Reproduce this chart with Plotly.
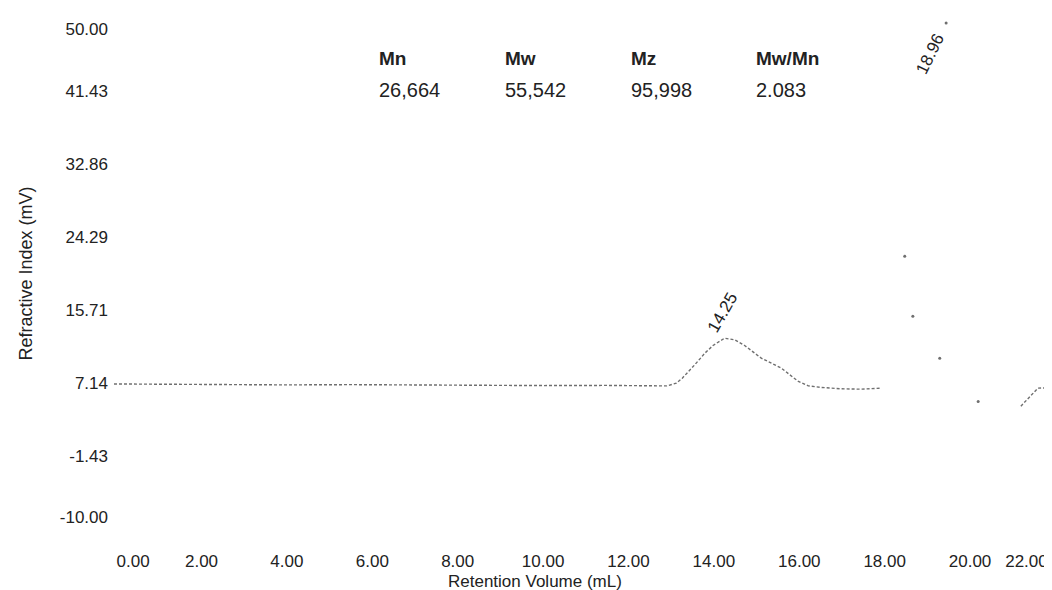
import plotly.graph_objects as go

# ---------------- data ----------------
# continuous part of the refractive-index trace (None = trace not visible, steep system peak)
ri_x = [-0.05, 1.0, 2.5, 4.0, 5.5, 7.0, 8.5, 10.0, 11.5, 12.9,
        13.12, 13.26, 13.55, 13.79, 13.98, 14.25, 14.49, 14.72, 15.11, 15.35,
        15.58, 15.78, 15.98, 16.21, 16.52, 16.99, 17.45, 17.92,
        None,
        21.19, 21.59, 22.06]
ri_y = [7.03, 6.98, 6.99, 6.92, 6.95, 6.90, 6.91, 6.84, 6.86, 6.80,
        7.12, 7.71, 9.27, 10.65, 11.55, 12.40, 12.21, 11.55, 10.06, 9.47,
        8.89, 8.10, 7.32, 6.81, 6.62, 6.46, 6.42, 6.54,
        None,
        4.42, 6.54, 6.60]

# isolated sample dots visible on the steep system peak
spike_x = [18.47, 18.66, 19.29, 19.44, 20.19]
spike_y = [22.03, 14.99, 10.06, 49.4, 4.98]

# peak labels
peak_x = [14.25, 18.96]
peak_labels = ["14.25", "18.96"]

# molecular weight summary
mw_headers = ["Mn", "Mw", "Mz", "Mw/Mn"]
mw_values = ["26,664", "55,542", "95,998", "2.083"]

# axis ticks
x_tick_vals = [2, 4, 6, 8, 10, 12, 14, 16, 18, 20]
x_tick_text = ["2.00", "4.00", "6.00", "8.00", "10.00", "12.00", "14.00", "16.00", "18.00", "20.00"]
x_first_val, x_first_text = 0, "0.00"
x_last_val, x_last_text = 22, "22.00"
y_tick_vals = [41.43, 32.86, 24.29, 15.71, 7.14, -1.43]
y_tick_text = ["41.43", "32.86", "24.29", "15.71", "7.14", "-1.43"]
y_top_val, y_top_text = 50, "50.00"
y_bot_val, y_bot_text = -10, "-10.00"

X_RANGE = [-0.05, 22.06]
Y_RANGE = [-10, 50]

FONT = "Liberation Sans, Arial, sans-serif"
TXT = "#222222"
TRACE = "#6f6f6f"

fig = go.Figure()
fig.add_trace(go.Scatter(x=ri_x, y=ri_y, mode="lines", connectgaps=False,
                         line=dict(color=TRACE, width=1.4, dash="3px,2px"),
                         name="RI", hoverinfo="x+y"))
fig.add_trace(go.Scatter(x=spike_x, y=spike_y, mode="markers",
                         marker=dict(color=TRACE, size=3),
                         name="RI (system peak)", hoverinfo="x+y"))
# empty traces so that the overlaid label-only axes get drawn
for xa, ya in (("x2", "y"), ("x3", "y"), ("x", "y2"), ("x", "y3")):
    fig.add_trace(go.Scatter(x=[], y=[], xaxis=xa, yaxis=ya, mode="markers",
                             hoverinfo="skip", showlegend=False))

common_x = dict(range=X_RANGE, showgrid=False, zeroline=False, showline=False,
                ticks="", ticklabelstandoff=20,
                tickfont=dict(family=FONT, size=17, color=TXT))
common_y = dict(range=Y_RANGE, showgrid=False, zeroline=False, showline=False,
                ticks="", ticklabelstandoff=5,
                tickfont=dict(family=FONT, size=17, color=TXT))

fig.update_layout(
    width=1052, height=590,
    margin=dict(l=106, r=2, t=10, b=69),
    plot_bgcolor="white", paper_bgcolor="white",
    showlegend=False,
    font=dict(family=FONT, color=TXT),
    xaxis=dict(**common_x, tickmode="array", tickvals=x_tick_vals, ticktext=x_tick_text),
    # end labels pulled inwards, as in the printed chart
    xaxis2=dict(**common_x, overlaying="x", anchor="y", side="bottom",
                tickmode="array", tickvals=[x_first_val], ticktext=[x_first_text],
                ticklabelshift=17),
    xaxis3=dict(**common_x, overlaying="x", anchor="y", side="bottom",
                tickmode="array", tickvals=[x_last_val], ticktext=[x_last_text],
                ticklabelshift=-29),
    yaxis=dict(**common_y, tickmode="array", tickvals=y_tick_vals, ticktext=y_tick_text),
    yaxis2=dict(**common_y, overlaying="y", anchor="x", side="left",
                tickmode="array", tickvals=[y_top_val], ticktext=[y_top_text],
                ticklabelshift=11),
    yaxis3=dict(**common_y, overlaying="y", anchor="x", side="left",
                tickmode="array", tickvals=[y_bot_val], ticktext=[y_bot_text],
                ticklabelshift=-12),
)

# axis titles
fig.add_annotation(text="Retention Volume (mL)", xref="paper", yref="paper",
                   x=(527 - 106) / 944, y=-52 / 511, xanchor="center", yanchor="middle",
                   showarrow=False, font=dict(family=FONT, size=17, color=TXT))
fig.add_annotation(text="Refractive Index (mV)", xref="paper", yref="paper",
                   x=(17 - 106) / 944, y=0.5, xanchor="center", yanchor="middle",
                   textangle=-90, showarrow=False, font=dict(family=FONT, size=18, color=TXT))

# molecular weight table
col_left_px = [369, 495, 621, 746]
for h, v, px in zip(mw_headers, mw_values, col_left_px):
    fig.add_annotation(text=f"<b>{h}</b>", xref="paper", yref="paper",
                       x=(px - 106) / 944, y=(521 - 50) / 511, xanchor="left", yanchor="middle",
                       showarrow=False, font=dict(family=FONT, size=19, color=TXT))
    fig.add_annotation(text=v, xref="paper", yref="paper",
                       x=(px - 106) / 944, y=(521 - 82.5) / 511, xanchor="left", yanchor="middle",
                       showarrow=False, font=dict(family=FONT, size=20, color=TXT))

# peak labels
fig.add_annotation(text=peak_labels[0], x=peak_x[0], y=max(ri_y[10:28]),
                   xshift=-2, yshift=26, textangle=-60, showarrow=False,
                   font=dict(family=FONT, size=17, color=TXT))
fig.add_annotation(text=peak_labels[1], x=peak_x[1], y=45.8,
                   xshift=5, textangle=-64, showarrow=False,
                   font=dict(family=FONT, size=17, color=TXT))

fig.write_html("out.html")
